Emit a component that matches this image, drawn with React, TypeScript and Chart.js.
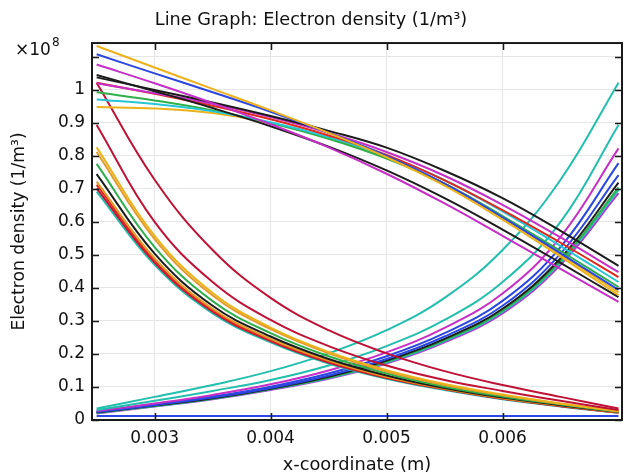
import React, { useEffect, useRef } from 'react';
import { Chart, registerables } from 'chart.js';

Chart.register(...registerables);

const FONT = '"DejaVu Sans", Verdana, sans-serif';

// x positions (m)
const xs = [0.0025, 0.003, 0.0035, 0.004, 0.0045, 0.005, 0.0055, 0.006, 0.0065, 0.007];

// axis ticks
const xTicks = [0.003, 0.004, 0.005, 0.006];
const xTickLabels = ['0.003', '0.004', '0.005', '0.006'];
const yTicks = [0, 0.1, 0.2, 0.3, 0.4, 0.5, 0.6, 0.7, 0.8, 0.9, 1.0, 1.1];
const yTickLabels = ['0', '0.1', '0.2', '0.3', '0.4', '0.5', '0.6', '0.7', '0.8', '0.9', '1', ''];

// Electron density (x1e8 1/m^3)
// group A: high, slowly decreasing
const aGold1 = [1.133, 1.068, 1.003, 0.938, 0.87, 0.796, 0.71, 0.607, 0.495, 0.378];
const aBlue = [1.108, 1.05, 0.993, 0.934, 0.87, 0.8, 0.716, 0.614, 0.505, 0.394];
const aMagenta2 = [1.077, 1.02, 0.96, 0.896, 0.826, 0.746, 0.656, 0.558, 0.458, 0.358];
const aBlack2 = [1.045, 0.996, 0.945, 0.89, 0.828, 0.756, 0.672, 0.577, 0.476, 0.372];
const aBlack1 = [1.038, 1.0, 0.962, 0.921, 0.876, 0.825, 0.755, 0.672, 0.573, 0.467];
const aMagenta1 = [1.02, 0.99, 0.958, 0.918, 0.87, 0.812, 0.74, 0.652, 0.553, 0.448];
const aRed = [1.022, 0.988, 0.952, 0.911, 0.862, 0.803, 0.726, 0.636, 0.537, 0.433];
const aCyan = [0.971, 0.957, 0.935, 0.902, 0.857, 0.8, 0.727, 0.632, 0.527, 0.418];
const aGreen = [0.993, 0.968, 0.938, 0.9, 0.852, 0.792, 0.716, 0.618, 0.512, 0.403];
const aGold2 = [0.948, 0.944, 0.93, 0.9, 0.854, 0.794, 0.716, 0.614, 0.502, 0.386];

// group B: decaying from left
const bCrimson1 = [1.022, 0.728, 0.515, 0.37, 0.272, 0.202, 0.148, 0.106, 0.07, 0.035];
const bCrimson2 = [0.894, 0.6, 0.418, 0.303, 0.224, 0.165, 0.121, 0.088, 0.058, 0.03];
const bGoldA = [0.826, 0.558, 0.385, 0.28, 0.206, 0.151, 0.109, 0.077, 0.05, 0.027];
const bGoldB = [0.812, 0.548, 0.377, 0.275, 0.202, 0.147, 0.106, 0.075, 0.049, 0.026];
const bGreen = [0.776, 0.524, 0.36, 0.263, 0.193, 0.141, 0.101, 0.071, 0.047, 0.025];
const bBlack = [0.745, 0.504, 0.346, 0.253, 0.185, 0.135, 0.097, 0.068, 0.045, 0.024];
const bGoldC = [0.722, 0.49, 0.337, 0.246, 0.18, 0.131, 0.095, 0.066, 0.044, 0.023];
const bRed = [0.712, 0.483, 0.332, 0.242, 0.177, 0.129, 0.094, 0.065, 0.043, 0.023];
const bCrimson3 = [0.702, 0.477, 0.328, 0.239, 0.174, 0.127, 0.093, 0.064, 0.042, 0.022];
const bTeal = [0.692, 0.47, 0.323, 0.235, 0.171, 0.125, 0.091, 0.063, 0.041, 0.022];

// group C: growing toward right
const cTeal1 = [0.035, 0.07, 0.106, 0.148, 0.202, 0.272, 0.37, 0.515, 0.728, 1.022];
const cTeal2 = [0.03, 0.058, 0.088, 0.121, 0.165, 0.224, 0.303, 0.418, 0.6, 0.894];
const cMagenta = [0.027, 0.05, 0.076, 0.108, 0.15, 0.205, 0.279, 0.383, 0.555, 0.823];
const cBlue1 = [0.025, 0.047, 0.071, 0.101, 0.141, 0.193, 0.263, 0.361, 0.524, 0.778];
const cBlue2 = [0.024, 0.045, 0.068, 0.097, 0.135, 0.185, 0.253, 0.346, 0.504, 0.742];
const cBlack = [0.023, 0.044, 0.066, 0.095, 0.131, 0.18, 0.246, 0.337, 0.49, 0.719];
const cGreen1 = [0.022, 0.043, 0.065, 0.094, 0.129, 0.177, 0.242, 0.332, 0.482, 0.705];
const cGreen2 = [0.021, 0.042, 0.064, 0.093, 0.127, 0.174, 0.239, 0.328, 0.477, 0.697];
const cPurple = [0.02, 0.041, 0.063, 0.091, 0.125, 0.171, 0.235, 0.323, 0.47, 0.687];

// group D: flat
const dBlue = [0.012, 0.012, 0.012, 0.012, 0.012, 0.012, 0.012, 0.012, 0.012, 0.012];

const GOLD = '#ecb21c';
const ORANGE = '#e29a2a';
const BLUE = '#2c46e0';
const MAGENTA = '#c62fc6';
const BLACK = '#1c1c1c';
const RED = '#de2a1e';
const CRIMSON = '#be1237';
const GREEN = '#2eaf4a';
const CYAN = '#25c6d6';
const TEAL = '#22bfae';
const PURPLE = '#b03ad6';

const series: [number[], string][] = [
  [aGold1, GOLD], [aBlue, BLUE], [aMagenta2, MAGENTA], [aBlack2, BLACK], [aBlack1, BLACK],
  [aMagenta1, MAGENTA], [aRed, RED], [aCyan, CYAN], [aGreen, GREEN], [aGold2, GOLD],
  [bCrimson1, CRIMSON], [bCrimson2, CRIMSON], [bGoldA, GOLD], [bGoldB, ORANGE], [bGreen, GREEN],
  [bBlack, BLACK], [bGoldC, ORANGE], [bRed, RED], [bCrimson3, CRIMSON], [bTeal, TEAL],
  [cTeal1, TEAL], [cTeal2, TEAL], [cMagenta, MAGENTA], [cBlue1, BLUE], [cBlue2, BLUE],
  [cBlack, BLACK], [cGreen1, GREEN], [cGreen2, TEAL], [cPurple, PURPLE],
  [dBlue, BLUE],
];

const framePlugin = {
  id: 'frame',
  afterDraw(chart: any) {
    const { ctx, chartArea: a, scales } = chart;
    ctx.save();
    ctx.strokeStyle = '#1a1a1a';
    ctx.lineWidth = 2;
    ctx.strokeRect(a.left, a.top, a.right - a.left, a.bottom - a.top);
    ctx.lineWidth = 1.5;
    const tl = 7;
    ctx.beginPath();
    xTicks.forEach((v) => {
      const p = Math.round(scales.x.getPixelForValue(v)) + 0.5;
      ctx.moveTo(p, a.bottom);
      ctx.lineTo(p, a.bottom - tl);
      ctx.moveTo(p, a.top);
      ctx.lineTo(p, a.top + tl);
    });
    yTicks.forEach((v) => {
      const p = Math.round(scales.y.getPixelForValue(v)) + 0.5;
      ctx.moveTo(a.left, p);
      ctx.lineTo(a.left + tl, p);
      ctx.moveTo(a.right, p);
      ctx.lineTo(a.right - tl, p);
    });
    ctx.stroke();
    ctx.fillStyle = '#111';
    ctx.textBaseline = 'alphabetic';
    ctx.textAlign = 'left';
    ctx.font = `17px ${FONT}`;
    ctx.fillText('×10', 15, 55);
    const w = ctx.measureText('×10').width;
    ctx.font = `12px ${FONT}`;
    ctx.fillText('8', 15 + w + 1, 46);
    ctx.restore();
  },
};

export default function App() {
  const ref = useRef<HTMLCanvasElement>(null);
  useEffect(() => {
    const chart = new Chart(ref.current as HTMLCanvasElement, {
      type: 'line',
      data: {
        datasets: series.map(([vals, color]) => ({
          data: xs.map((x, i) => ({ x, y: vals[i] })),
          borderColor: color,
          backgroundColor: color,
          borderWidth: 2,
          pointRadius: 0,
          fill: false,
          tension: 0.4,
        })),
      },
      options: {
        animation: false,
        responsive: false,
        devicePixelRatio: 1,
        layout: { padding: { left: 0, right: 6, top: 0, bottom: 0 } },
        plugins: {
          legend: { display: false },
          tooltip: { enabled: false },
          title: {
            display: true,
            text: 'Line Graph: Electron density (1/m³)',
            color: '#111',
            font: { family: FONT, size: 17.7, weight: 'normal' },
            padding: { top: 9.5, bottom: 12.3 },
          },
        },
        scales: {
          x: {
            type: 'linear',
            min: 0.00246,
            max: 0.00703,
            afterBuildTicks: (s: any) => {
              s.ticks = xTicks.map((v) => ({ value: v }));
            },
            afterFit: (s: any) => {
              s.height = 56;
            },
            ticks: {
              autoSkip: false,
              maxRotation: 0,
              padding: 8,
              color: '#111',
              font: { family: FONT, size: 17 },
              callback: (v: any) => {
                const i = xTicks.findIndex((t) => Math.abs(t - v) < 1e-9);
                return i >= 0 ? xTickLabels[i] : '';
              },
            },
            grid: { color: '#e6e6e6', lineWidth: 1, drawTicks: false },
            border: { display: false },
            title: {
              display: true,
              text: 'x-coordinate (m)',
              color: '#111',
              font: { family: FONT, size: 17.8 },
              padding: { top: 0, bottom: 0 },
            },
          },
          y: {
            type: 'linear',
            min: 0,
            max: 1.142,
            afterBuildTicks: (s: any) => {
              s.ticks = yTicks.map((v) => ({ value: v }));
            },
            afterFit: (s: any) => {
              s.width = 92;
            },
            ticks: {
              autoSkip: false,
              padding: 7,
              color: '#111',
              font: { family: FONT, size: 17 },
              callback: (v: any) => {
                const i = yTicks.findIndex((t) => Math.abs(t - v) < 1e-9);
                return i >= 0 ? yTickLabels[i] : '';
              },
            },
            grid: { color: '#e6e6e6', lineWidth: 1, drawTicks: false },
            border: { display: false },
            title: {
              display: true,
              text: 'Electron density (1/m³)',
              color: '#111',
              font: { family: FONT, size: 17.2 },
              padding: { top: 9, bottom: 0 },
            },
          },
        },
      },
      plugins: [framePlugin],
    } as any);
    return () => chart.destroy();
  }, []);
  return (
    <canvas
      ref={ref}
      width={628}
      height={476}
      style={{ position: 'fixed', left: 0, top: 0, width: 628, height: 476, display: 'block' }}
    />
  );
}
